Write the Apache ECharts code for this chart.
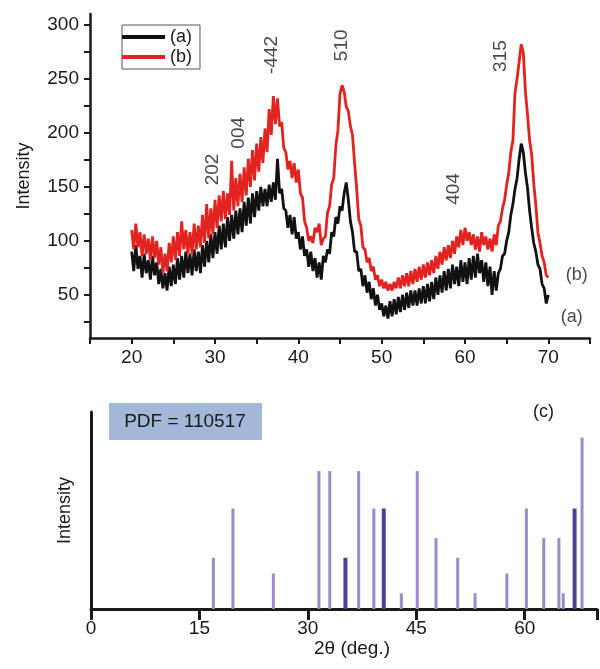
<!DOCTYPE html>
<html>
<head>
<meta charset="utf-8">
<script src="https://cdn.jsdelivr.net/npm/echarts@6/dist/echarts.min.js"></script>
<style>
  html, body { margin: 0; padding: 0; background: #fff; }
  #chart { width: 600px; height: 669px; }
</style>
</head>
<body>
<div id="chart"></div>
<script>
// XRD scans (a) and (b), 20..70 deg, read every 0.25 deg
const scanStart = 20
const scanStep = 0.25

const intensityA = [
  90, 72, 96, 74,   86, 66, 88, 70,   82, 64, 86, 68,   80, 60, 74, 56,   70, 54, 76, 58,
  78, 60, 84, 64,   86, 66, 90, 70,   88, 68, 92, 72,   90, 70, 96, 76,   100, 80, 106, 84,
  108, 88, 114, 92, 116, 94, 122, 100, 124, 102, 128, 106, 130, 108, 136, 114, 140, 116, 144, 122,
  146, 128, 150, 132, 148, 132, 152, 136, 154, 138, 176, 144, 148, 130, 128, 112, 124, 106, 122, 102,
  108, 92, 104, 86, 92, 76, 90, 72,  84, 66, 80, 64,   86, 80, 92, 88,   108, 104, 122, 116,
  132, 128, 144, 154, 138, 118, 108, 90, 90, 72, 74, 58, 68, 52, 62, 46,  56, 40, 50, 36,
  42, 30, 40, 28,   44, 30, 46, 32,   48, 34, 50, 36,   52, 38, 54, 40,   54, 40, 56, 42,
  58, 42, 60, 44,   62, 46, 66, 50,   68, 52, 72, 54,   74, 56, 78, 60,   76, 58, 82, 62,
  80, 60, 84, 64,   86, 66, 88, 70,   82, 62, 80, 58,   76, 50, 72, 54,   70, 74, 86, 88,
  100, 108, 124, 134, 148, 158, 176, 190, 182, 163, 149, 128, 112, 98, 90, 78, 74, 60, 56, 42,
  50
]

const intensityB = [
  110, 92, 116, 94, 108, 86, 106, 88, 102, 82, 104, 84, 100, 78, 94, 70, 88, 72, 98, 80,
  104, 82, 108, 86, 118, 92, 110, 88, 108, 88, 116, 92, 114, 94, 124, 98, 134, 102, 130, 106,
  138, 112, 142, 118, 146, 120, 144, 124, 174, 128, 158, 132, 162, 136, 168, 142, 176, 150, 184, 156,
  190, 164, 196, 172, 204, 182, 222, 198, 234, 208, 232, 206, 210, 186, 182, 166, 174, 158, 172, 154,
  166, 144, 140, 118, 112, 100, 104, 98, 112, 108, 116, 96, 102, 104, 126, 132, 152, 158, 188, 202,
  236, 244, 238, 224, 220, 206, 198, 172, 148, 120, 114, 94, 92, 80, 84, 72,  76, 64, 68, 58,
  64, 56, 62, 54,   60, 54, 62, 56,   66, 56, 68, 58,   70, 58, 72, 60,   74, 62, 76, 64,
  78, 66, 80, 68,   82, 70, 86, 74,   90, 78, 94, 82,   96, 84, 100, 88,  104, 94, 110, 96,
  112, 100, 108, 96, 106, 92, 104, 90, 108, 96, 104, 92, 102, 90, 106, 96, 114, 118, 130, 138,
  152, 163, 182, 193, 237, 250, 266, 282, 274, 238, 217, 193, 180, 153, 133, 108, 98, 86, 80, 68,
  66
]

// peak indices written above the scans
const peakNames = ['202', '004', '-442', '510', '404', '315']
const peakAngles = [29.7, 32.8, 36.8, 45.2, 58.7, 64.3]
const peakHeights = [166, 200, 272, 281, 148, 271]

// curve tags at the right end
const tagNames = ['(b)', '(a)']
const tagAngles = [73.4, 72.8]
const tagHeights = [68, 29]

// reference pattern PDF 110517 (relative intensity, %)
const refAngles = [17.0, 19.7, 25.3, 31.6, 33.1, 37.1, 39.2, 43.0, 45.2, 47.8, 50.8, 53.2, 57.6, 60.3, 62.7, 64.8, 65.4, 68.0]
const refHeights = [26, 51, 18, 70, 70, 70, 51, 8, 70, 36, 26, 8, 18, 51, 36, 36, 8, 87]
const refStrongAngles = [35.2, 40.5, 66.9]
const refStrongHeights = [26, 51, 51]

const font = 'Liberation Sans, Arial, sans-serif'
const ink = '#1a1a1a'
const fs = 19

const twoTheta = intensityA.map((v, i) => scanStart + i * scanStep)
const scanA = twoTheta.map((x, i) => [x, intensityA[i]])
const scanB = twoTheta.map((x, i) => [x, intensityB[i]])

const yTicks = []
for (let v = 25; v <= 300; v += 25) yTicks.push(v)
const yLabels = yTicks.filter((v) => v % 50 === 0)

const chart = echarts.init(document.getElementById('chart'))

const option = {
  animation: false,
  textStyle: { fontFamily: font, color: ink },
  grid: [
    { left: 90, top: 14, width: 500, height: 324 },
    { left: 91, top: 412, width: 515, height: 197 },
  ],
  legend: {
    data: ['(a)', '(b)'],
    orient: 'vertical',
    left: 122,
    top: 25,
    icon: 'rect',
    itemWidth: 43,
    itemHeight: 4,
    itemGap: 2,
    padding: [3, 8, 3, 0],
    borderColor: '#555',
    borderWidth: 1,
    textStyle: { fontFamily: font, fontSize: 18, color: ink },
  },
  xAxis: [
    {
      gridIndex: 0,
      type: 'value',
      min: 15,
      max: 75,
      interval: 5,
      splitLine: { show: false },
      axisLine: { lineStyle: { color: ink, width: 2.5 } },
      axisTick: { length: 6, lineStyle: { color: ink, width: 2 } },
      axisLabel: {
        margin: 10,
        fontSize: fs,
        color: ink,
        fontFamily: font,
        formatter: (v) => (v % 10 === 0 && v > 15 && v < 75 ? v : ''),
      },
    },
    {
      gridIndex: 1,
      type: 'value',
      min: 0,
      max: 70,
      interval: 15,
      splitLine: { show: false },
      axisLine: { lineStyle: { color: ink, width: 3 } },
      axisTick: { length: 11, lineStyle: { color: ink, width: 3 } },
      axisLabel: {
        margin: 10,
        fontSize: fs,
        color: ink,
        fontFamily: font,
        formatter: (v) => (v % 15 === 0 ? v : ''),
      },
      name: '2θ (deg.)',
      nameLocation: 'middle',
      nameGap: 22,
      nameTextStyle: { fontSize: fs, color: ink, fontFamily: font, padding: [0, 0, 0, 16] },
    },
  ],
  yAxis: [
    {
      gridIndex: 0,
      type: 'value',
      min: 10,
      max: 310,
      splitLine: { show: false },
      axisLine: { show: true, lineStyle: { color: ink, width: 2.5 } },
      axisTick: { show: true, length: 6, customValues: yTicks, lineStyle: { color: ink, width: 2 } },
      axisLabel: { margin: 11, fontSize: fs, color: ink, fontFamily: font, customValues: yLabels },
      name: 'Intensity',
      nameLocation: 'middle',
      nameGap: 57,
      nameTextStyle: { fontSize: 18, color: ink, fontFamily: font },
    },
    {
      gridIndex: 1,
      type: 'value',
      min: 0,
      max: 100,
      splitLine: { show: false },
      axisLine: { show: true, lineStyle: { color: ink, width: 3 } },
      axisTick: { show: false },
      axisLabel: { show: false },
      name: 'Intensity',
      nameLocation: 'middle',
      nameGap: 17,
      nameTextStyle: { fontSize: 18, color: ink, fontFamily: font },
    },
  ],
  series: [
    {
      name: '(a)',
      type: 'line',
      xAxisIndex: 0,
      yAxisIndex: 0,
      data: scanA,
      showSymbol: false,
      color: '#111',
      lineStyle: { color: '#111', width: 2.8 },
      z: 2,
    },
    {
      name: '(b)',
      type: 'line',
      xAxisIndex: 0,
      yAxisIndex: 0,
      data: scanB,
      showSymbol: false,
      color: '#e3231f',
      lineStyle: { color: '#e3231f', width: 2.8 },
      z: 3,
    },
    {
      name: 'peaks',
      type: 'scatter',
      xAxisIndex: 0,
      yAxisIndex: 0,
      symbolSize: 1,
      itemStyle: { color: 'rgba(0,0,0,0)' },
      label: {
        show: true,
        position: 'inside',
        rotate: 90,
        formatter: '{b}',
        fontSize: fs,
        color: ink,
        fontFamily: font,
      },
      data: peakNames.map((n, i) => ({ name: n, value: [peakAngles[i], peakHeights[i]] })),
      z: 5,
    },
    {
      name: 'tags',
      type: 'scatter',
      xAxisIndex: 0,
      yAxisIndex: 0,
      symbolSize: 1,
      itemStyle: { color: 'rgba(0,0,0,0)' },
      label: {
        show: true,
        position: 'inside',
        formatter: '{b}',
        fontSize: 18,
        color: ink,
        fontFamily: font,
      },
      data: tagNames.map((n, i) => ({ name: n, value: [tagAngles[i], tagHeights[i]] })),
      z: 5,
    },
    {
      name: 'ref',
      type: 'bar',
      xAxisIndex: 1,
      yAxisIndex: 1,
      barWidth: 3,
      itemStyle: { color: '#9a8cc8' },
      data: refAngles.map((x, i) => [x, refHeights[i]]),
      z: 2,
    },
    {
      name: 'refStrong',
      type: 'bar',
      xAxisIndex: 1,
      yAxisIndex: 1,
      barWidth: 4,
      barGap: '-100%',
      itemStyle: { color: '#4f3f98' },
      data: refStrongAngles.map((x, i) => [x, refStrongHeights[i]]),
      z: 2,
    },
  ],
  graphic: [
    {
      type: 'group',
      left: 109,
      top: 403,
      children: [
        { type: 'rect', shape: { x: 0, y: 0, width: 153, height: 37 }, style: { fill: '#a3b7d9' } },
        {
          type: 'text',
          x: 76,
          y: 19,
          style: { text: 'PDF = 110517', fill: ink, font: fs + 'px ' + font, align: 'center', verticalAlign: 'middle' },
        },
      ],
    },
    {
      type: 'text',
      left: 533,
      top: 403,
      style: { text: '(c)', fill: ink, font: '18px ' + font },
    },
  ],
}

chart.setOption(option)
</script>
</body>
</html>
